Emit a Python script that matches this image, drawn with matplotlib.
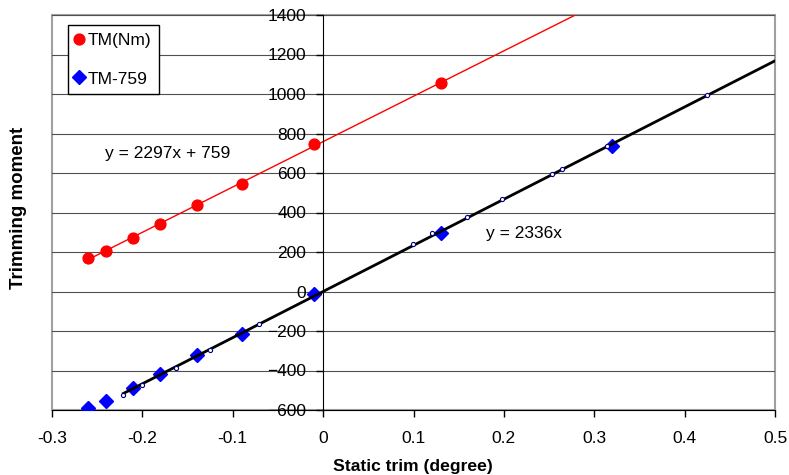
import numpy as np
import matplotlib.pyplot as plt
from matplotlib.patches import Rectangle

plt.rcParams['font.family'] = ['Liberation Sans', 'DejaVu Sans']

# measured points
trim = [-0.26, -0.24, -0.21, -0.18, -0.14, -0.09, -0.01, 0.13]
tm = [170, 205, 272, 340, 440, 542, 745, 1055]

trim_b = [-0.26, -0.24, -0.21, -0.18, -0.14, -0.09, -0.01, 0.13, 0.32]
tm_759 = [-589, -554, -487, -419, -319, -217, -14, 296, 735]

# small open circles along the fitted line
trim_c = [-0.221, -0.200, -0.163, -0.125, -0.071, 0.099, 0.121, 0.159,
          0.198, 0.253, 0.264, 0.314, 0.425]
tm_c = [-524, -475, -389, -296, -166, 239, 295, 379, 467, 595, 620, 737, 995]

# trendline coefficients
a_red, b_red = 2297, 759
a_blk = 2336

fig = plt.figure(figsize=(7.89, 4.75), dpi=100)
ax = fig.add_axes([52/789, 65/475, 723/789, 395/475])

ax.set_xlim(-0.3, 0.5)
ax.set_ylim(-600, 1400)
ax.set_xticks(np.arange(-0.3, 0.51, 0.1))
ax.set_xticklabels(['-0.3', '-0.2', '-0.1', '0', '0.1', '0.2', '0.3', '0.4', '0.5'])
ax.set_yticks(np.arange(-600, 1401, 200))

for y in np.arange(-400, 1401, 200):
    ax.axhline(y, color='#505050', lw=0.8, zorder=1)

ax.spines['left'].set_position(('data', 0))
ax.spines['left'].set_color('black')
ax.spines['top'].set_visible(False)
ax.spines['right'].set_visible(False)
ax.spines['bottom'].set_color('black')
ax.add_patch(Rectangle((0, 0), 1, 1, transform=ax.transAxes, fill=False,
                       edgecolor='#a0a0a0', lw=1.5, clip_on=False, zorder=0))
ax.tick_params(axis='both', direction='out', length=5, width=1, labelsize=12.5)
ax.tick_params(axis='x', pad=10)
ax.tick_params(axis='y', pad=7)

xr = np.array([trim[0], 0.5])
ax.plot(xr, a_red*xr + b_red, color='red', lw=1, zorder=2)
xb = np.array([trim_c[0], 0.5])

ax.plot(trim, tm, 'o', color='red', ms=7.8, zorder=3, label='TM(Nm)')
ax.plot(trim_b, tm_759, 'D', color='#0000ff', ms=7.5, zorder=3, label='TM-759')
ax.plot(xb, a_blk*xb, color='black', lw=2, zorder=4)
ax.plot(trim_c, tm_c, 'o', ms=3, mfc='white', mec='#000080', mew=0.8, zorder=5)

ax.text(-0.2414, 701, 'y = 2297x + 759', fontsize=12.5, va='center', ha='left')
ax.text(0.180, 296, 'y = 2336x', fontsize=12.5, va='center', ha='left')

leg = ax.legend(loc='upper left', bbox_to_anchor=(0.0221, 0.9747), borderaxespad=0,
                fontsize=12.5, handlelength=0.4, handletextpad=0.3, labelspacing=1.35,
                fancybox=False, framealpha=1, edgecolor='black', borderpad=0.45)
leg.get_frame().set_linewidth(1)

fig.text(19/789, 1 - 208/475, 'Trimming moment', rotation=90, ha='center', va='center',
         fontsize=13.5, fontweight='bold')
fig.text(413/789, 1 - 466/475, 'Static trim (degree)', ha='center', va='center',
         fontsize=12.6, fontweight='bold')

fig.savefig('out.png', dpi=100)
